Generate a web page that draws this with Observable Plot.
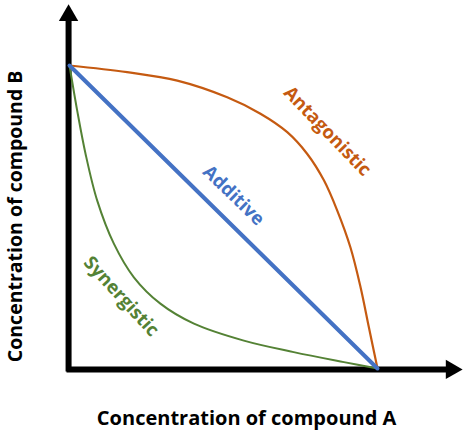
<!DOCTYPE html>
<html>
<head>
<meta charset="utf-8">
<script src="https://cdn.jsdelivr.net/npm/d3@7"></script>
<script src="https://cdn.jsdelivr.net/npm/@observablehq/plot@0.6"></script>
<style>
  html, body { margin: 0; padding: 0; background: #fff; }
  #chart svg { display: block; }
</style>
</head>
<body>
<div id="chart"></div>
<script>
// Concentration of compound A (x) and compound B (y), arbitrary units 0..10
const additiveA = [0, 10];
const additiveB = [10, 0];

const antagonisticA = [0, 1.87, 3.50, 5.12, 6.20, 7.07, 7.72, 8.26, 8.69, 9.12, 9.45, 9.72, 10];
const antagonisticB = [10, 9.78, 9.50, 8.95, 8.41, 7.80, 7.08, 6.21, 5.22, 4.00, 2.68, 1.36, 0];

const synergisticA = [0, 0.25, 0.52, 0.90, 1.44, 2.09, 2.95, 4.04, 5.66, 7.28, 8.91, 10];
const synergisticB = [10, 8.51, 7.09, 5.54, 4.12, 3.01, 2.14, 1.48, 0.92, 0.54, 0.21, 0];

const labelNames = ["Antagonistic", "Additive", "Synergistic"];
const labelA = [8.37, 5.33, 1.68];
const labelB = [7.83, 5.71, 2.38];
const labelAngle = [46, 44, 47.5];
const seriesColors = ["#C55A11", "#4472C4", "#548235"];

const xTitle = "Concentration of compound A";
const yTitle = "Concentration of compound B";

// axis extents (data units)
const axisEndA = 12.18;
const axisEndB = 11.45;
const arrowA = 12.4;
const arrowB = 11.65;

const zip = (xs, ys) => xs.map((x, i) => ({A: x, B: ys[i]}));
const labels = labelNames.map((name, i) => ({name, A: labelA[i], B: labelB[i], angle: labelAngle[i], color: seriesColors[i]}));

const font = "'Open Sans', sans-serif";

const chart = Plot.plot({
  width: 468,
  height: 436,
  margin: 0,
  x: {domain: [0, 10], range: [69, 377], axis: null},
  y: {domain: [0, 10], range: [368, 65], axis: null},
  style: {fontFamily: font, background: "#fff"},
  marks: [
    // axes
    Plot.line([{A: 0, B: -0.03}, {A: axisEndA, B: -0.03}], {x: "A", y: "B", stroke: "black", strokeWidth: 6, strokeLinecap: "square", clip: false}),
    Plot.line([{A: -0.03, B: 0}, {A: -0.03, B: axisEndB}], {x: "A", y: "B", stroke: "black", strokeWidth: 6, strokeLinecap: "square", clip: false}),
    Plot.dot([{A: arrowA, B: -0.03}], {x: "A", y: "B", symbol: "triangle", r: 7.2, fill: "black", stroke: null, rotate: 90}),
    Plot.dot([{A: -0.03, B: arrowB}], {x: "A", y: "B", symbol: "triangle", r: 7.2, fill: "black", stroke: null}),
    // curves
    Plot.line(zip(antagonisticA, antagonisticB), {x: "A", y: "B", stroke: seriesColors[0], strokeWidth: 2.2, curve: "catmull-rom"}),
    Plot.line(zip(synergisticA, synergisticB), {x: "A", y: "B", stroke: seriesColors[2], strokeWidth: 2, curve: "catmull-rom"}),
    Plot.line(zip(additiveA, additiveB), {x: "A", y: "B", stroke: seriesColors[1], strokeWidth: 4}),
    // labels
    ...labels.map(d => Plot.text([d], {x: "A", y: "B", text: "name", rotate: d.angle, fill: d.color, fontSize: 18.5, fontWeight: "bold", textAnchor: "middle", lineAnchor: "middle"})),
    // titles
    Plot.text([xTitle], {x: 5.75, y: -1.65, text: d => d, fontSize: 20, fontWeight: "bold", fill: "black", textAnchor: "middle", lineAnchor: "middle", clip: false}),
    Plot.text([yTitle], {x: -1.76, y: 5.02, text: d => d, fontSize: 19.5, fontWeight: "bold", fill: "black", rotate: -90, textAnchor: "middle", lineAnchor: "middle", clip: false})
  ]
});
document.getElementById("chart").appendChild(chart);
</script>
</body>
</html>
